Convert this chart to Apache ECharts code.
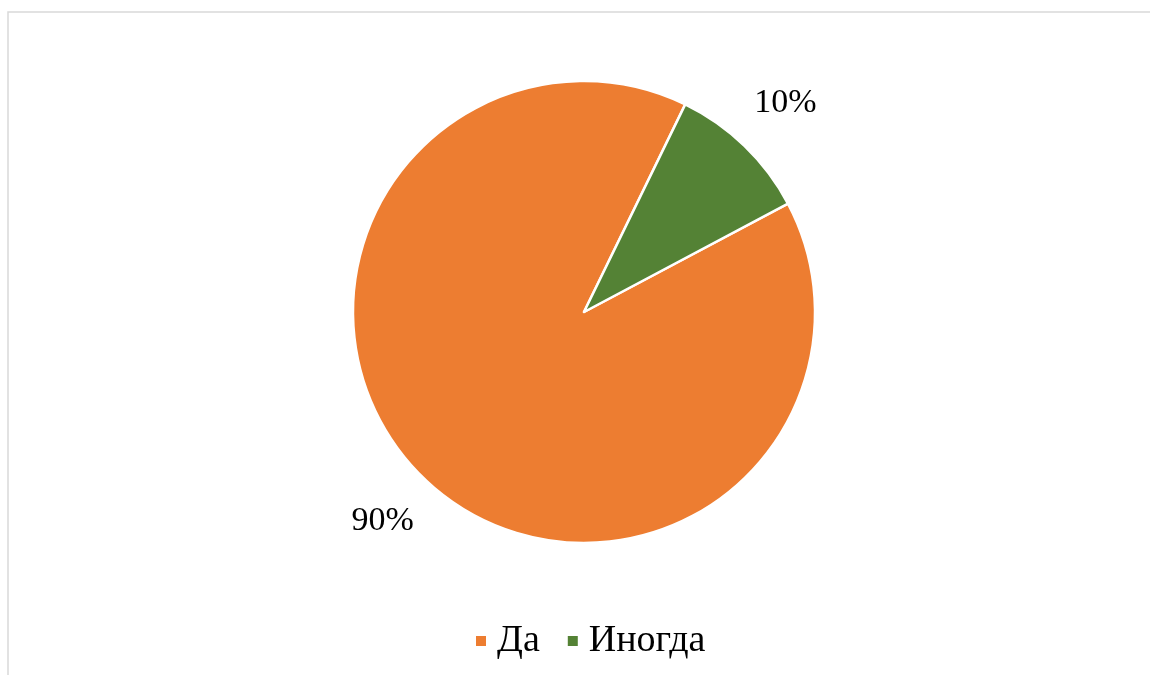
<!DOCTYPE html>
<html>
<head>
<meta charset="utf-8">
<title>Да / Иногда</title>
<script src="https://cdn.jsdelivr.net/npm/echarts@6/dist/echarts.min.js"></script>
<style>
  html, body { margin: 0; padding: 0; background: #ffffff; }
  #chart { width: 1150px; height: 675px; }
</style>
</head>
<body>
<div id="chart"></div>
<script>
// Answer categories and their shares (percent)
const categories = ['Да', 'Иногда'];
const shares = [90, 10];
const colors = ['#ED7D31', '#548235'];

const serif = '"Liberation Serif", "Times New Roman", "DejaVu Serif", serif';

const pieCenter = [584, 312];
const pieRadius = 231;
const startAngle = 28;        // degrees, counter-clockwise from 3 o'clock
const labelDistance = 290;    // from pie centre to label centre

// bisector angle (radians, screen coords) of each slice, slices running clockwise
const total = shares.reduce((a, b) => a + b, 0);
const midAngles = [];
{
  let acc = 0;
  shares.forEach(v => {
    const mid = startAngle - (acc + v / 2) / total * 360;
    midAngles.push(mid * Math.PI / 180);
    acc += v;
  });
}

const chart = echarts.init(document.getElementById('chart'), null, { renderer: 'canvas' });

chart.setOption({
  backgroundColor: '#ffffff',
  animation: false,
  color: colors,
  graphic: [
    {
      // outer frame of the chart area
      type: 'rect',
      shape: { x: 8, y: 12, width: 1160, height: 680 },
      style: { fill: 'none', stroke: '#d9d9d9', lineWidth: 1.5 },
      silent: true
    }
  ],
  legend: {
    data: categories,
    top: 622,
    left: 474,
    padding: 0,
    icon: 'rect',
    itemWidth: 12,
    itemHeight: 12,
    itemGap: 26,
    textStyle: { fontFamily: serif, fontSize: 38, color: '#000000', padding: [0, 0, 0, 5] }
  },
  series: [
    {
      type: 'pie',
      center: pieCenter,
      radius: [0, pieRadius],
      startAngle: startAngle,
      clockwise: true,
      data: categories.map((name, i) => ({ name, value: shares[i] })),
      itemStyle: { borderColor: '#ffffff', borderWidth: 2.5 },
      label: {
        show: true,
        position: 'outside',
        formatter: p => p.value + '%',
        fontFamily: serif,
        fontSize: 34,
        color: '#000000'
      },
      labelLine: { show: false, length: 20, length2: 0 },
      // centre each percentage label on its slice's bisector, just outside the rim
      labelLayout: function (params) {
        const a = midAngles[params.dataIndex];
        if (a === undefined) return {};
        return {
          x: pieCenter[0] + Math.cos(a) * labelDistance,
          y: pieCenter[1] - Math.sin(a) * labelDistance,
          align: 'center',
          verticalAlign: 'middle'
        };
      },
      emphasis: { disabled: true }
    }
  ]
});
</script>
</body>
</html>
